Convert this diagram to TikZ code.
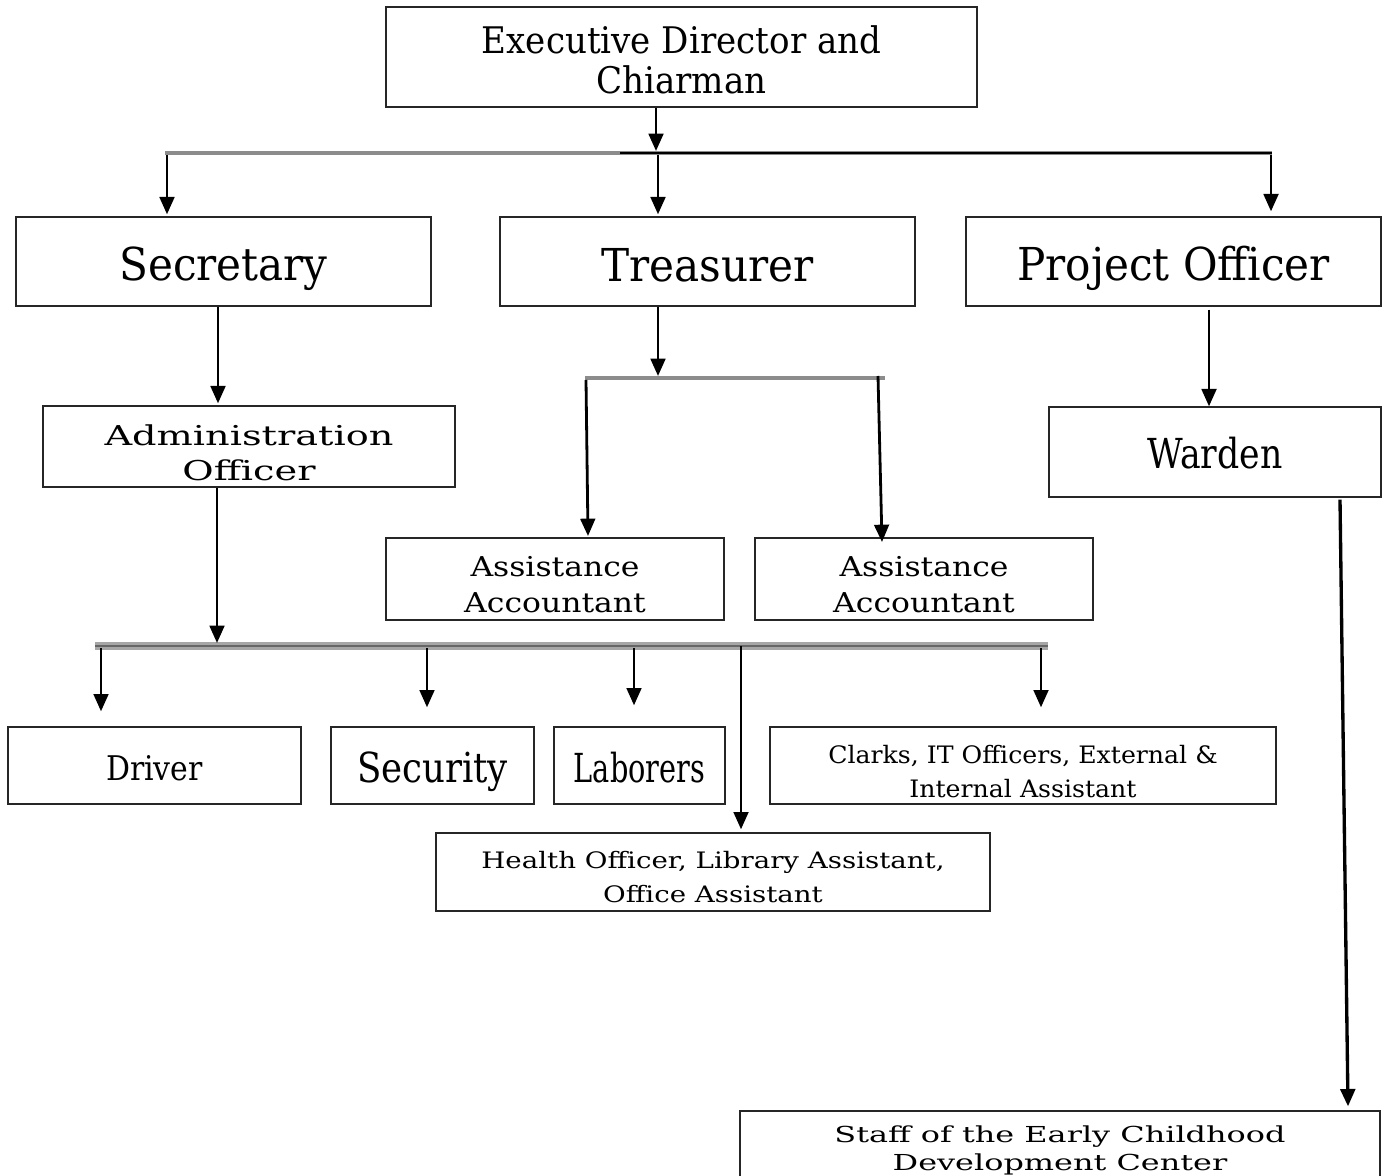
\documentclass[tikz,border=0pt]{standalone}
\usepackage{fontspec}
\setmainfont{DejaVu Serif}
\newfontfamily\fBig[FakeStretch=0.93]{DejaVu Serif}
\newfontfamily\fWar[FakeStretch=0.84]{DejaVu Serif}
\newfontfamily\fDrv[FakeStretch=0.88]{DejaVu Serif}
\newfontfamily\fSec[FakeStretch=0.86]{DejaVu Serif}
\newfontfamily\fLab[FakeStretch=0.72]{DejaVu Serif}
\newfontfamily\fAdm[FakeStretch=1.4]{DejaVu Serif}
\newfontfamily\fAA[FakeStretch=1.15]{DejaVu Serif}
\newfontfamily\fHea[FakeStretch=1.22]{DejaVu Serif}
\newfontfamily\fStf[FakeStretch=1.45]{DejaVu Serif}
\newfontfamily\fClk[FakeStretch=1.05]{DejaVu Serif}
\usetikzlibrary{arrows.meta,calc}
\tikzset{
  box/.style={draw=black!85, line width=1pt, fill=white, rectangle, inner sep=0pt},
  lbl/.style={inner sep=0pt, align=center, text=black},
  arr/.style={line width=2.1pt, -{Triangle[width=11pt,length=13pt]}},
  busA/.style={line width=3pt, draw=black!45},
  busAcore/.style={line width=1.4pt, draw=black},
  busB/.style={line width=2.6pt, draw=black!45},
  busC/.style={line width=6pt, draw=black!35},
  busCcore/.style={line width=2.2pt, draw=black!60},
}
\begin{document}
\begin{tikzpicture}[x=0.75pt,y=-0.75pt]
\useasboundingbox (0,0) rectangle (1392,1176);
\clip (0,0) rectangle (1392,1176);

% boxes
\node[box, minimum width=443.25pt, minimum height=75pt] (exec) at (681.5,57) {};
\node[box, minimum width=311.25pt, minimum height=66.75pt] (sec) at (223.5,261.5) {};
\node[box, minimum width=311.25pt, minimum height=66.75pt] (tre) at (707.5,261.5) {};
\node[box, minimum width=311.25pt, minimum height=66.75pt] (pro) at (1173.5,261.5) {};
\node[box, minimum width=309pt, minimum height=60.75pt] (adm) at (249,446.5) {};
\node[box, minimum width=249pt, minimum height=67.5pt] (war) at (1215,452) {};
\node[box, minimum width=253.5pt, minimum height=61.5pt] (aa1) at (555,579) {};
\node[box, minimum width=253.5pt, minimum height=61.5pt] (aa2) at (924,579) {};
\node[box, minimum width=219.75pt, minimum height=57.75pt] (drv) at (154.5,765.5) {};
\node[box, minimum width=152.25pt, minimum height=57.75pt] (secu) at (432.5,765.5) {};
\node[box, minimum width=128.25pt, minimum height=57.75pt] (lab) at (639.5,765.5) {};
\node[box, minimum width=379.5pt, minimum height=57.75pt] (clk) at (1023,765.5) {};
\node[box, minimum width=415.5pt, minimum height=58.5pt] (hea) at (713,872) {};
\node[box, minimum width=480pt, minimum height=55.5pt] (stf) at (1060,1148) {};

% texts
\node[lbl, font=\fBig\fontsize{27.5pt}{30pt}\selectfont] (exec-t) at ($(exec.center)+(0,3)$) {Executive Director and\\Chiarman};
\node[lbl, font=\fBig\fontsize{34pt}{40pt}\selectfont] (sec-t) at ($(sec.center)+(0,7)$) {Secretary};
\node[lbl, font=\fBig\fontsize{34pt}{40pt}\selectfont] (tre-t) at ($(tre.center)+(0,4)$) {Treasurer};
\node[lbl, font=\fBig\fontsize{34pt}{40pt}\selectfont] (pro-t) at ($(pro.center)+(0,7)$) {Project Officer};
\node[lbl, font=\fAdm\fontsize{20.5pt}{26pt}\selectfont] (adm-t) at ($(adm.center)+(0,6)$) {Administration\\Officer};
\node[lbl, font=\fWar\fontsize{31pt}{36pt}\selectfont] (war-t) at ($(war.center)+(0,1)$) {Warden};
\node[lbl, font=\fAA\fontsize{20.5pt}{27pt}\selectfont] (aa1-t) at ($(aa1.center)+(0,6)$) {Assistance\\Accountant};
\node[lbl, font=\fAA\fontsize{20.5pt}{27pt}\selectfont] (aa2-t) at ($(aa2.center)+(0,6)$) {Assistance\\Accountant};
\node[lbl, font=\fDrv\fontsize{25.5pt}{30pt}\selectfont] (drv-t) at ($(drv.center)+(0,3)$) {Driver};
\node[lbl, font=\fSec\fontsize{31pt}{36pt}\selectfont] (secu-t) at ($(secu.center)+(0,6)$) {Security};
\node[lbl, font=\fLab\fontsize{30pt}{36pt}\selectfont] (lab-t) at ($(lab.center)+(0,2)$) {Laborers};
\node[lbl, font=\fClk\fontsize{18pt}{25.5pt}\selectfont] (clk-t) at ($(clk.center)+(0,6)$) {Clarks, IT Officers, External \&\\Internal Assistant};
\node[lbl, font=\fHea\fontsize{17pt}{25.5pt}\selectfont] (hea-t) at ($(hea.center)+(0,5)$) {Health Officer, Library Assistant,\\Office Assistant};
\node[lbl, font=\fStf\fontsize{16.5pt}{21pt}\selectfont] (stf-t) at ($(stf.center)+(0,2)$) {Staff of the Early Childhood\\Development Center};

% bus coordinates
\coordinate (b1L) at (165,153);
\coordinate (b1M) at (620,153);
\coordinate (b1R) at (1272,153);
\coordinate (b2L) at (585,378);
\coordinate (b2R) at (885,378);
\coordinate (b3L) at (95,646);
\coordinate (b3R) at (1048,646);

% junction coordinates
\coordinate (j1) at (656,151);
\coordinate (s1) at (167,155);
\coordinate (s2) at (658,155);
\coordinate (s3) at (1271,155);
\coordinate (x2) at (218,0);
\coordinate (j2) at (658,376);
\coordinate (a1s) at (586,380);
\coordinate (a1e) at (588,536);
\coordinate (a2s) at (878,376);
\coordinate (a2e) at (882,542);
\coordinate (j3) at (217,643);
\coordinate (d1) at (101,648);
\coordinate (d2) at (427,648);
\coordinate (d3) at (634,648);
\coordinate (d4) at (1041,648);
\coordinate (d5) at (741,646);
\coordinate (x5) at (1209,0);
\coordinate (w1) at (1340,0);
\coordinate (w2) at (1348,0);

% buses
\draw[busA] (b1L) -- (b1R);
\draw[busAcore] (b1M) -- (b1R);
\draw[busB] (b2L) -- (b2R);
\draw[busC] (b3L) -- (b3R);
\draw[busCcore] (b3L) -- (b3R);

% connectors
\draw[arr] (exec.south -| j1) -- (j1);
\draw[arr] (s1) -- ($(sec.north -| s1)+(0,-2)$);
\draw[arr] (s2) -- ($(tre.north -| s2)+(0,-2)$);
\draw[arr] (s3) -- ($(pro.north -| s3)+(0,-5)$);
\draw[arr] (sec.south -| x2) -- ($(adm.north -| x2)+(0,-2)$);
\draw[arr] (tre.south -| j2) -- (j2);
\draw[arr] (a1s) -- (a1e);
\draw[arr] (a2s) -- (a2e);
\draw[arr] (adm.south -| j3) -- (j3);
\draw[arr] (d1) -- ($(drv.north -| d1)+(0,-15)$);
\draw[arr] (d2) -- ($(secu.north -| d2)+(0,-19)$);
\draw[arr] (d3) -- ($(lab.north -| d3)+(0,-21)$);
\draw[arr] (d4) -- ($(clk.north -| d4)+(0,-19)$);
\draw[arr] (d5) -- ($(hea.north -| d5)+(0,-3)$);
\draw[arr] ($(pro.south -| x5)+(0,3)$) -- (war.north -| x5);
\draw[arr, line width=2.5pt] ($(war.south -| w1)+(0,2)$) -- ($(stf.north -| w2)+(0,-4)$);
\end{tikzpicture}
\end{document}
